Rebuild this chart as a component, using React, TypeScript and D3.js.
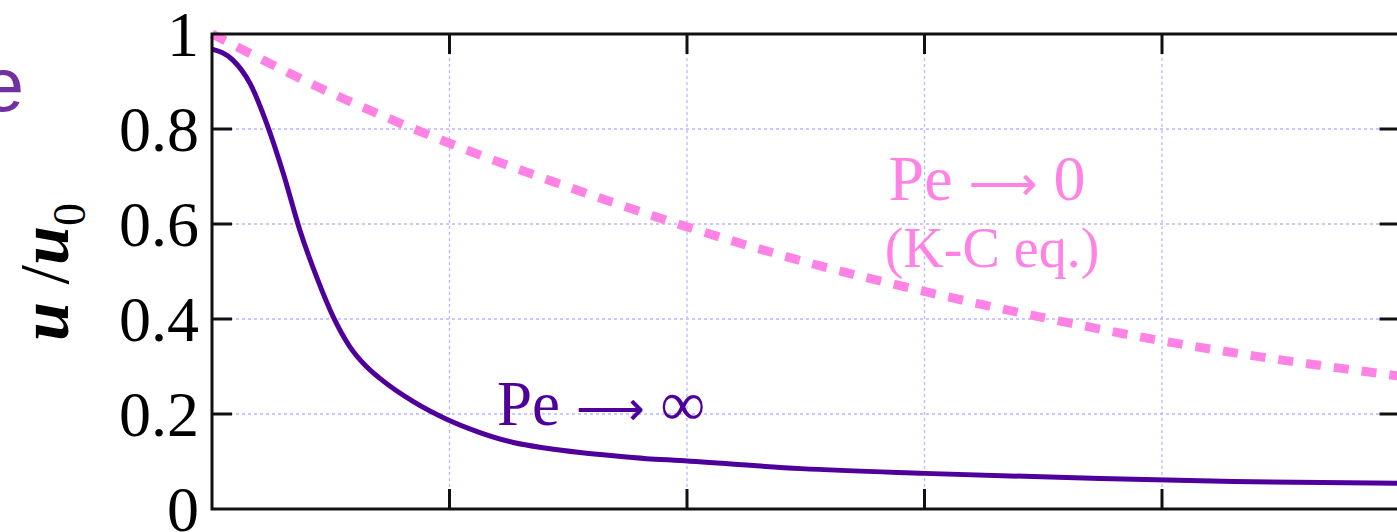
import React from "react";
import * as d3 from "d3";

const xTicks = [0, 1, 2, 3, 4, 5];
const yTicks = [0, 0.2, 0.4, 0.6, 0.8, 1];
const yTickLabels = ["0", "0.2", "0.4", "0.6", "0.8", "1"];

const peInfX = [0, 0.088, 0.16, 0.23, 0.3, 0.37, 0.44, 0.51, 0.58, 0.65, 0.707, 0.848, 0.988, 1.128, 1.269, 1.409, 1.55, 1.69, 1.83, 1.97, 2.48, 3.0, 3.74, 4.3, 5.0];
const peInfY = [0.968, 0.945, 0.896, 0.812, 0.707, 0.587, 0.489, 0.405, 0.342, 0.3, 0.275, 0.226, 0.189, 0.161, 0.14, 0.128, 0.119, 0.112, 0.106, 0.102, 0.085, 0.075, 0.064, 0.058, 0.054];

const pe0X = [0, 0.5, 1, 1.5, 2, 2.5, 3, 3.5, 4, 4.5, 5];
const pe0Y = [1, 0.876, 0.77, 0.678, 0.594, 0.52, 0.458, 0.403, 0.354, 0.314, 0.28];

const PURPLE = "#4f009b";
const PINK = "#ff82e4";
const GRID = "#b8b8ff";

export default function App() {
  const W = 1397, H = 532;
  const x = d3.scaleLinear().domain([0, 5]).range([212, 1399.5]);
  const y = d3.scaleLinear().domain([0, 1]).range([509, 34]);
  const line = d3.line<[number, number]>().x(d => x(d[0])).y(d => y(d[1])).curve(d3.curveMonotoneX);
  const infPath = line(peInfX.map((v, i) => [v, peInfY[i]] as [number, number])) || "";
  const zeroPath = line(pe0X.map((v, i) => [v, pe0Y[i]] as [number, number])) || "";
  const serif = "'Liberation Serif', 'Times New Roman', serif";
  const arrowFont = "'DejaVu Sans', sans-serif";
  const x0 = x(0), x1 = x(5), y0 = y(0), y1 = y(1);
  const tl = 20;

  return (
    <svg width={W} height={H} style={{ position: "absolute", left: 0, top: 0, background: "#fff" }}>
      {/* grid */}
      {xTicks.slice(1, -1).map(t => (
        <line key={"gx" + t} x1={x(t)} x2={x(t)} y1={y1} y2={y0} stroke={GRID} strokeWidth={1.3} strokeDasharray="3,3" />
      ))}
      {yTicks.slice(1, -1).map(t => (
        <line key={"gy" + t} x1={x0} x2={x1} y1={y(t)} y2={y(t)} stroke={GRID} strokeWidth={1.3} strokeDasharray="3,3" />
      ))}
      {/* curves */}
      <path d={zeroPath} fill="none" stroke={PINK} strokeWidth={9} strokeDasharray="15,13" />
      <path d={infPath} fill="none" stroke={PURPLE} strokeWidth={5} />
      {/* frame */}
      <rect x={x0} y={y1} width={x1 - x0} height={y0 - y1} fill="none" stroke="#111" strokeWidth={3} />
      {xTicks.slice(1, -1).map(t => (
        <g key={"tx" + t}>
          <line x1={x(t)} x2={x(t)} y1={y0} y2={y0 - tl} stroke="#111" strokeWidth={3} />
          <line x1={x(t)} x2={x(t)} y1={y1} y2={y1 + tl} stroke="#111" strokeWidth={3} />
        </g>
      ))}
      {yTicks.slice(1, -1).map(t => (
        <g key={"ty" + t}>
          <line x1={x0} x2={x0 + tl} y1={y(t)} y2={y(t)} stroke="#111" strokeWidth={3} />
          <line x1={x1} x2={x1 - tl} y1={y(t)} y2={y(t)} stroke="#111" strokeWidth={3} />
        </g>
      ))}
      {yTicks.map((t, i) => (
        <text key={"yl" + t} x={199} y={y(t)} dy="0.35em" textAnchor="end" fontFamily={serif} fontSize={64} fill="#000">
          {yTickLabels[i]}
        </text>
      ))}
      {/* y axis title */}
      <text transform="translate(68,272) rotate(-90)" textAnchor="middle" fontFamily={serif} fontSize={70} fill="#000">
        <tspan fontWeight="bold" fontStyle="italic">u</tspan>
        <tspan> /</tspan>
        <tspan fontWeight="bold" fontStyle="italic">u</tspan>
        <tspan fontSize={46} dy={17}>0</tspan>
      </text>
      {/* annotations */}
      <text x={497} y={425} fontFamily={serif} fontSize={63} fill={PURPLE}>
        <tspan>Pe </tspan>
        <tspan fontFamily={arrowFont} fontSize={48}>⟶</tspan>
        <tspan> ∞</tspan>
      </text>
      <text x={987} y={200} textAnchor="middle" fontFamily={serif} fontSize={64} fill={PINK}>
        <tspan>Pe </tspan>
        <tspan fontFamily={arrowFont} fontSize={48}>⟶</tspan>
        <tspan> 0</tspan>
      </text>
      <text x={992} y={267} textAnchor="middle" fontFamily={serif} fontSize={56} fill={PINK}>(K-C eq.)</text>
      <text x={24} y={111} textAnchor="end" fontFamily="'Liberation Sans', Arial, sans-serif" fontSize={76} fill="#7030a0">e</text>
    </svg>
  );
}
